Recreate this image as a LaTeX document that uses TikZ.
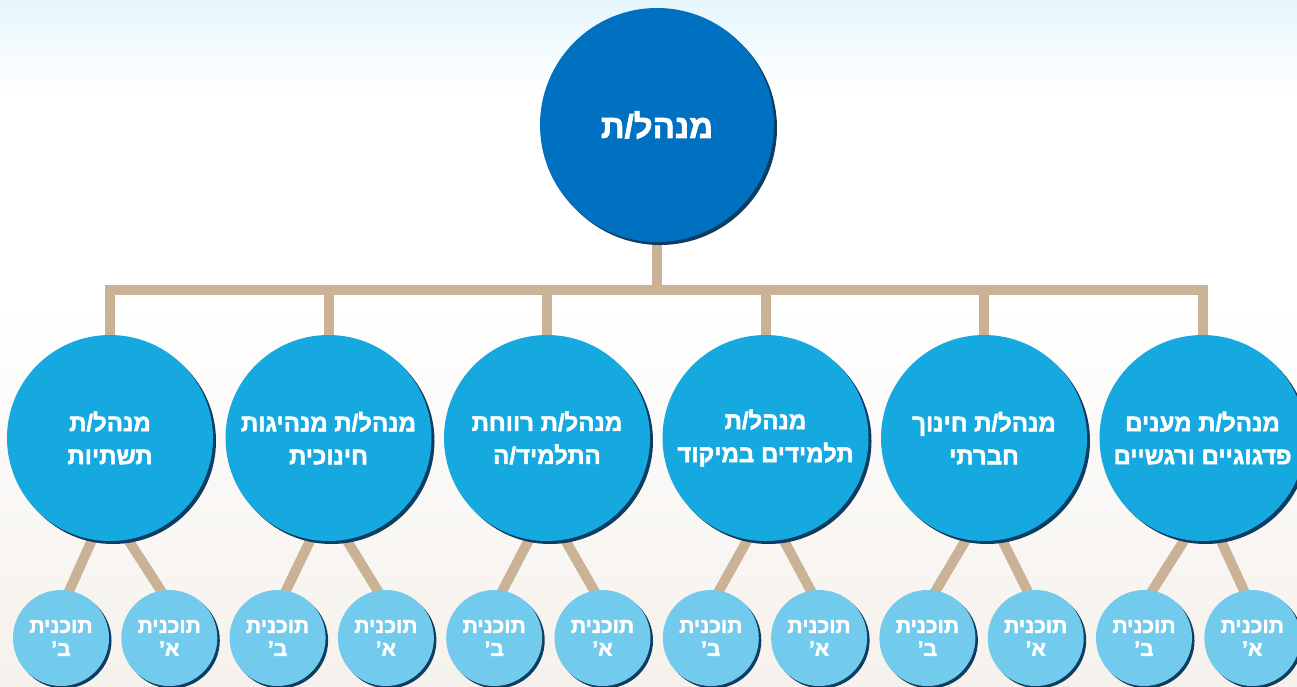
\documentclass[tikz,border=0pt]{standalone}
\usepackage{fontspec}
\usepackage{tikz}
\usetikzlibrary{shadows,backgrounds}
\TeXXeTstate=1
\newfontfamily\hebfont[Script=Hebrew,UprightFont={Liberation Sans Bold},UprightFeatures={FakeBold=2},
                       BoldFont={Liberation Sans Bold},BoldFeatures={FakeBold=2}]{Liberation Sans}
\newcommand{\heb}[1]{\beginR #1\endR}

\definecolor{topblue}{HTML}{0070C0}
\definecolor{midblue}{HTML}{15A9E0}
\definecolor{lightblue}{HTML}{72CBEC}
\definecolor{shadowblue}{HTML}{0D3D62}
\definecolor{branchtan}{HTML}{C9B296}
\definecolor{skycyan}{HTML}{E6F6FC}
\definecolor{sandbeige}{HTML}{F5F1EC}

\begin{document}
\begin{tikzpicture}[x=1pt,y=-1pt,node distance=218.5pt,
                    every node/.style={text=white,font=\hebfont\bfseries}]
\tikzset{manager/.style={circle,inner sep=0pt,minimum size=206pt,fill=midblue,align=center,
           font=\hebfont\bfseries\fontsize{24}{33}\selectfont,
           general shadow={fill=shadowblue,shadow xshift=3pt,shadow yshift=-3pt}}}
\tikzset{plan/.style={circle,inner sep=0pt,minimum size=96pt,fill=lightblue,align=center,
           font=\hebfont\bfseries\fontsize{21}{23}\selectfont,
           general shadow={fill=shadowblue,shadow xshift=2.5pt,shadow yshift=-2.5pt}}}
\tikzset{branch/.style={draw=branchtan,line width=10pt}}
\tikzset{twig/.style={draw=branchtan,line width=10pt,shorten <=-12pt,shorten >=-12pt}}

\useasboundingbox (0,0) rectangle (1297,686);

        \node[circle,inner sep=0pt,minimum size=234pt,fill=topblue,
              font=\hebfont\bfseries\fontsize{33}{36}\selectfont,
              general shadow={fill=shadowblue,shadow xshift=3pt,shadow yshift=-3pt}]
                                              (top)   at (657,125)   {\heb{מנהל/ת}};

        \node[manager]                        (m1)    at (110,438)   {\heb{מנהל/ת}\\\heb{תשתיות}};
        \node[manager]                        (m2)    [right of=m1]  {\heb{מנהל/ת מנהיגות}\\\heb{חינוכית}};
        \node[manager]                        (m3)    [right of=m2]  {\heb{מנהל/ת רווחת}\\\heb{התלמיד/ה}};
        \node[manager]                        (m4)    [right of=m3]  {\heb{מנהל/ת}\\\heb{תלמידים במיקוד}};
        \node[manager]                        (m5)    [right of=m4]  {\heb{מנהל/ת חינוך}\\\heb{חברתי}};
        \node[manager]                        (m6)    [right of=m5]  {\heb{מנהל/ת מענים}\\\heb{פדגוגיים ורגשיים}};

        \begin{scope}[node distance=108.3pt]
        \node[plan]                           (s1)    at (61,638)    {\heb{תוכנית}\\\heb{ב’}};
        \node[plan]                           (s2)    [right of=s1]  {\heb{תוכנית}\\\heb{א’}};
        \node[plan]                           (s3)    [right of=s2]  {\heb{תוכנית}\\\heb{ב’}};
        \node[plan]                           (s4)    [right of=s3]  {\heb{תוכנית}\\\heb{א’}};
        \node[plan]                           (s5)    [right of=s4]  {\heb{תוכנית}\\\heb{ב’}};
        \node[plan]                           (s6)    [right of=s5]  {\heb{תוכנית}\\\heb{א’}};
        \node[plan]                           (s7)    [right of=s6]  {\heb{תוכנית}\\\heb{ב’}};
        \node[plan]                           (s8)    [right of=s7]  {\heb{תוכנית}\\\heb{א’}};
        \node[plan]                           (s9)    [right of=s8]  {\heb{תוכנית}\\\heb{ב’}};
        \node[plan]                           (s10)   [right of=s9]  {\heb{תוכנית}\\\heb{א’}};
        \node[plan]                           (s11)   [right of=s10] {\heb{תוכנית}\\\heb{ב’}};
        \node[plan]                           (s12)   [right of=s11] {\heb{תוכנית}\\\heb{א’}};
        \end{scope}

        \coordinate (bar) at (top |- 0,290);

        \begin{pgfonlayer}{background}
        % page shading
        \shade[top color=skycyan,bottom color=white] (0,0) rectangle (1297,95);
        \shade[top color=white,bottom color=sandbeige] (0,300) rectangle (1297,686);

        % tree
        \draw[branch] (m1.center) |- (bar) -| (m6.center);
        \draw[branch] (top.center) -- (bar);
        \draw[branch] (m2.center) -- (m2 |- bar);
        \draw[branch] (m3.center) -- (m3 |- bar);
        \draw[branch] (m4.center) -- (m4 |- bar);
        \draw[branch] (m5.center) -- (m5 |- bar);

        \path[twig]
        (m1.260)   edge            (s1.80)
        (m1.280)   edge            (s2.100)
        (m2.260)   edge            (s3.80)
        (m2.280)   edge            (s4.100)
        (m3.260)   edge            (s5.80)
        (m3.280)   edge            (s6.100)
        (m4.260)   edge            (s7.80)
        (m4.280)   edge            (s8.100)
        (m5.260)   edge            (s9.80)
        (m5.280)   edge            (s10.100)
        (m6.260)   edge            (s11.80)
        (m6.280)   edge            (s12.100)
        ; %end path
        \end{pgfonlayer}

\end{tikzpicture}
\end{document}
